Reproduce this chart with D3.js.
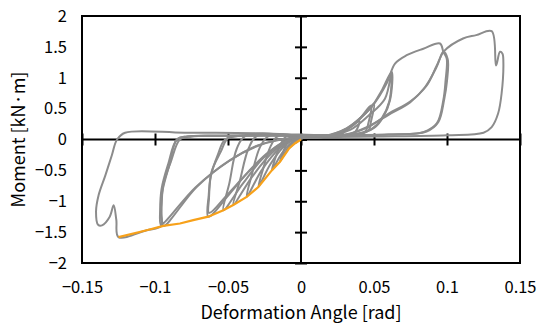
<!DOCTYPE html>
<html>
<head>
<meta charset="utf-8">
<script src="https://cdn.jsdelivr.net/npm/d3@7"></script>
<style>
  body { margin: 0; background: #fff; }
  text { font-family: "Noto Sans CJK JP", "Noto Sans", sans-serif; fill: #000; }
</style>
</head>
<body>
<svg width="544" height="329"></svg>
<script>
// tick values
const xTicks = [-0.15, -0.1, -0.05, 0, 0.05, 0.1, 0.15];
const yTicks = [-2, -1.5, -1, -0.5, 0, 0.5, 1, 1.5, 2];

// hysteresis loops, [angle rad, moment kN·m]
const cycle1 = [[0,0.03],[-0.002,0.03],[-0.003,-0.02],[-0.004,-0.06],[-0.002,-0.02],[0,0.02],[0.004,0.03],[0.002,0.03],[0,0.03]];
const cycle2 = [[0,0.04],[-0.004,0.04],[-0.006,-0.04],[-0.008,-0.14],[-0.005,-0.06],[-0.002,0],[0.003,0.03],[0.008,0.04],[0.005,0.04],[0,0.04]];
const cycle3 = [[0,0.04],[-0.007,0.05],[-0.01,-0.08],[-0.013,-0.25],[-0.0144,-0.36],[-0.009,-0.14],[-0.004,-0.02],[0.002,0.03],[0.014,0.04],[0.01,0.04],[0,0.04]];
const cycle4 = [[0,0.04],[-0.01,0.05],[-0.014,-0.08],[-0.018,-0.33],[-0.02,-0.5],[-0.013,-0.22],[-0.006,-0.04],[0.002,0.03],[0.012,0.04],[0.02,0.06],[0.015,0.05],[0,0.04]];
const cycle5 = [[0,0.05],[-0.016,0.05],[-0.021,-0.12],[-0.026,-0.48],[-0.0292,-0.77],[-0.021,-0.4],[-0.012,-0.12],[-0.003,0.02],[0.015,0.04],[0.025,0.08],[0.03,0.13],[0.026,0.07],[0.015,0.05],[0,0.05]];
const cycle6 = [[0,0.05],[-0.022,0.06],[-0.028,-0.12],[-0.034,-0.6],[-0.0372,-0.93],[-0.027,-0.5],[-0.015,-0.15],[-0.004,0.02],[0.015,0.04],[0.028,0.11],[0.035,0.22],[0.04,0.3],[0.037,0.12],[0.03,0.06],[0,0.05]];
const cycle7 = [[0,0.05],[-0.03,0.06],[-0.036,-0.15],[-0.042,-0.68],[-0.0464,-1.06],[-0.034,-0.62],[-0.02,-0.22],[-0.006,0.01],[0.015,0.04],[0.03,0.15],[0.04,0.33],[0.048,0.55],[0.046,0.25],[0.044,0.13],[0.035,0.07],[0,0.05]];
const cycle8 = [[0,0.05],[-0.038,0.06],[-0.044,-0.15],[-0.049,-0.7],[-0.0532,-1.145],[-0.04,-0.72],[-0.025,-0.28],[-0.008,0],[0.015,0.04],[0.032,0.17],[0.043,0.4],[0.05,0.58],[0.048,0.3],[0.046,0.14],[0.036,0.07],[0,0.05]];
const cycle9 = [[0,0.06],[-0.04,0.06],[-0.05,0.02],[-0.055,-0.2],[-0.0612,-0.52],[-0.0632,-0.9],[-0.0635,-1.25],[-0.0486,-0.87],[-0.036,-0.52],[-0.022,-0.2],[-0.008,0],[0.015,0.05],[0.0313,0.18],[0.042,0.38],[0.0484,0.53],[0.055,0.78],[0.0621,1.095],[0.061,0.64],[0.0564,0.37],[0.0507,0.2],[0.0438,0.12],[0.03,0.07],[0,0.06]];
const cycle10 = [[0,0.06],[-0.042,0.06],[-0.052,0],[-0.057,-0.25],[-0.0618,-0.6],[-0.063,-0.95],[-0.063,-1.19],[-0.05,-0.88],[-0.037,-0.55],[-0.022,-0.22],[-0.008,-0.01],[0.018,0.05],[0.034,0.16],[0.046,0.38],[0.0575,0.66],[0.062,1.08],[0.0605,0.62],[0.055,0.33],[0.049,0.18],[0.04,0.1],[0.02,0.06],[0,0.06]];
const cycle11 = [[0,0.07],[-0.05,0.06],[-0.075,0.05],[-0.0829,0],[-0.089,-0.35],[-0.0943,-0.735],[-0.0954,-1.05],[-0.0954,-1.25],[-0.0943,-1.4],[-0.0715,-0.77],[-0.0486,-0.335],[-0.028,-0.09],[-0.01,0.01],[0.01,0.04],[0.02,0.07],[0.0313,0.18],[0.0484,0.53],[0.0587,0.91],[0.0644,1.23],[0.0724,1.365],[0.0838,1.47],[0.0952,1.555],[0.0975,1.42],[0.0998,1.31],[0.099,0.95],[0.0975,0.64],[0.093,0.26],[0.0838,0.12],[0.06,0.08],[0.03,0.07],[0,0.07]];
const cycle12 = [[0,0.07],[-0.055,0.06],[-0.078,0.05],[-0.085,0],[-0.091,-0.4],[-0.0955,-0.8],[-0.0965,-1.15],[-0.096,-1.38],[-0.093,-1.33],[-0.0725,-0.78],[-0.05,-0.36],[-0.03,-0.1],[-0.012,0.01],[0.01,0.04],[0.03,0.07],[0.045,0.2],[0.06,0.4],[0.0747,0.6],[0.085,0.85],[0.093,1.18],[0.0975,1.42],[0.1005,1.3],[0.1,0.95],[0.098,0.64],[0.094,0.28],[0.086,0.13],[0.06,0.08],[0,0.07]];
const cycle13 = [[0,0.07],[-0.05,0.06],[-0.078,0.05],[-0.085,0],[-0.09,-0.4],[-0.095,-0.85],[-0.096,-1.2],[-0.0957,-1.4],[-0.1057,-1.47],[-0.125,-1.58],[-0.1265,-1.3],[-0.1283,-1.064],[-0.131,-1.25],[-0.1363,-1.39],[-0.139,-1.38],[-0.1404,-1.17],[-0.1386,-0.9],[-0.134,-0.58],[-0.1295,-0.25],[-0.126,0],[-0.1205,0.11],[-0.08,0.11],[-0.03,0.1],[0,0.08],[0.03,0.08],[0.046,0.2],[0.06,0.42],[0.075,0.62],[0.086,0.87],[0.093,1.2],[0.098,1.43],[0.111,1.636],[0.12,1.69],[0.1306,1.754],[0.1336,1.2],[0.1363,1.42],[0.138,1.39],[0.1386,1.26],[0.1374,0.745],[0.135,0.42],[0.1306,0.2],[0.125,0.11],[0.1,0.07],[0.05,0.05],[0.02,0.04]];

// skeleton curve on the negative side (orange)
const envelope = [[0,0],[-0.004,-0.06],[-0.008,-0.14],[-0.0144,-0.36],[-0.02,-0.5],[-0.0292,-0.77],[-0.0372,-0.93],[-0.0464,-1.06],[-0.0532,-1.145],[-0.0635,-1.25],[-0.0738,-1.305],[-0.0829,-1.36],[-0.0943,-1.4],[-0.1057,-1.47],[-0.125,-1.58]];

const cycles = [cycle1, cycle2, cycle3, cycle4, cycle5, cycle6, cycle7, cycle8, cycle9, cycle10, cycle11, cycle12, cycle13];

const margin = {left: 82, right: 24, top: 16, bottom: 66};
const width = 544, height = 329;

const svg = d3.select("svg");

const x = d3.scaleLinear().domain([-0.15, 0.15]).range([margin.left, width - margin.right]);
const y = d3.scaleLinear().domain([-2, 2]).range([height - margin.bottom, margin.top]);

const fmt = d3.format("");

// tick labels outside the frame
svg.append("g")
  .attr("transform", "translate(" + margin.left + ",0)")
  .call(d3.axisLeft(y).tickValues(yTicks).tickSize(0).tickPadding(15).tickFormat(fmt))
  .call(g => g.select(".domain").remove())
  .selectAll("text").style("font-size", "16.5px");

svg.append("g")
  .attr("transform", "translate(0," + (height - margin.bottom) + ")")
  .call(d3.axisBottom(x).tickValues(xTicks).tickSize(0).tickPadding(18).tickFormat(fmt))
  .call(g => g.select(".domain").remove())
  .selectAll("text").style("font-size", "16.5px");

// crossing tick marks on the zero lines
svg.append("g")
  .attr("transform", "translate(" + (x(0) + 6) + ",0)")
  .call(d3.axisLeft(y).tickValues(yTicks).tickSize(12).tickFormat(""))
  .call(g => g.select(".domain").remove())
  .selectAll("line").attr("stroke-width", 2);

svg.append("g")
  .attr("transform", "translate(0," + (y(0) - 6) + ")")
  .call(d3.axisBottom(x).tickValues(xTicks).tickSize(12).tickFormat(""))
  .call(g => g.select(".domain").remove())
  .selectAll("line").attr("stroke-width", 2);

// zero lines
svg.append("line")
  .attr("x1", x(0)).attr("x2", x(0))
  .attr("y1", y(-2)).attr("y2", y(2))
  .attr("stroke", "#000").attr("stroke-width", 2);
svg.append("line")
  .attr("x1", x(-0.15)).attr("x2", x(0.15))
  .attr("y1", y(0)).attr("y2", y(0))
  .attr("stroke", "#000").attr("stroke-width", 2);

const line = d3.line()
  .x(d => x(d[0]))
  .y(d => y(d[1]))
  .curve(d3.curveCatmullRom.alpha(0.5));

svg.append("g")
  .selectAll("path")
  .data(cycles)
  .join("path")
  .attr("d", line)
  .attr("fill", "none")
  .attr("stroke", "#8c8c8c")
  .attr("stroke-width", 2)
  .attr("stroke-linejoin", "round");

svg.append("path")
  .datum(envelope)
  .attr("d", d3.line().x(d => x(d[0])).y(d => y(d[1])))
  .attr("fill", "none")
  .attr("stroke", "#f7a11a")
  .attr("stroke-width", 2.2);

// frame
svg.append("rect")
  .attr("x", x(-0.15)).attr("y", y(2))
  .attr("width", x(0.15) - x(-0.15))
  .attr("height", y(-2) - y(2))
  .attr("fill", "none")
  .attr("stroke", "#000")
  .attr("stroke-width", 2);

// axis titles
svg.append("text")
  .attr("x", x(0)).attr("y", 319)
  .attr("text-anchor", "middle")
  .style("font-size", "18px")
  .text("Deformation Angle [rad]");

svg.append("text")
  .attr("transform", "translate(25," + y(0) + ") rotate(-90)")
  .attr("text-anchor", "middle")
  .style("font-size", "18px")
  .text("Moment [kN·m]");
</script>
</body>
</html>
